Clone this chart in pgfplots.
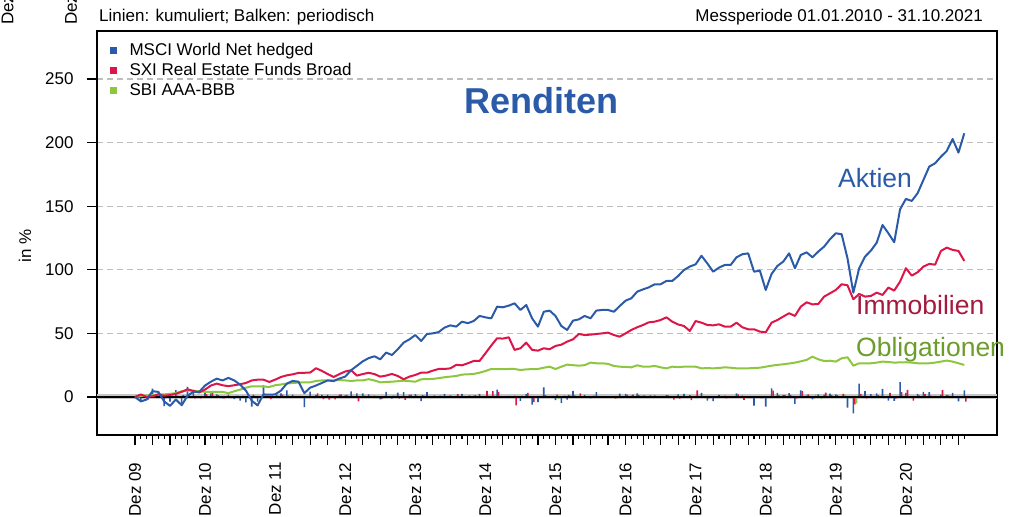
\documentclass[border=0pt]{standalone}
\usepackage{pgfplots}
\usepackage{pgfplotstable}
\pgfplotsset{compat=1.18}
\usepackage{fontspec}
\setmainfont{Liberation Sans}
\definecolor{cblue}{RGB}{43,91,168}
\definecolor{cred}{RGB}{220,22,72}
\definecolor{cgreen}{RGB}{141,198,63}
\definecolor{tred}{RGB}{165,25,62}
\definecolor{tgreen}{RGB}{108,156,44}
\definecolor{gridc}{RGB}{190,190,190}

\pgfplotstableread{
m A I O
0 0 0 0
1 -3.5 2 0.5
2 -2 0 1
3 4.5 0.5 1.5
4 4 2 2
5 -3.5 1 2
6 -7 1.5 2.5
7 -2 2.5 3
8 -6.5 4 4.5
9 1 6 5
10 4 4.7 5
11 4 3.5 4.5
12 9 5.8 4
13 12 9 4
14 14.4 10.5 4
15 13 9.2 4
16 15 8.5 3
17 13 9.2 4.5
18 9.7 10 5.8
19 5 11 7.3
20 -3 13 8.4
21 -6.6 13.6 8.4
22 2 13.6 8.2
23 1.8 11.8 7.9
24 2 13.6 9.2
25 5 15.7 9.8
26 10.5 17 10.5
27 12.6 17.8 11
28 12 18.9 11.3
29 3 19 11.5
30 7.3 19.2 11.5
31 9 22.6 12.6
32 11 20.5 13
33 13 18 13
34 12.5 15.7 13
35 14.5 18 13.3
36 16 20 13
37 21 21 12.6
38 24.5 16.8 13
39 28 18 13
40 30.5 19 14
41 32 18 13
42 29.6 16 11.5
43 34.9 16.8 11.8
44 33 18.1 12
45 37.5 16.5 12.4
46 42.7 13.9 12.8
47 45.3 16 12.4
48 48.7 17.3 12
49 44 19.1 13.9
50 49.5 19.1 14
51 50 20.7 14.2
52 51 22 14.8
53 54.5 22 15.5
54 56.3 22.5 16
55 55.3 25.2 16.5
56 59.2 24.9 17.6
57 58 26.5 17.8
58 59.7 28.3 18.1
59 63.7 28.3 19.1
60 62.6 34.3 20.4
61 61.8 40.4 22
62 71 46.1 21.8
63 70.5 45.9 21.9
64 71.8 46.9 22
65 73.6 37 22
66 68.4 38.3 21.2
67 72.3 42.7 21.7
68 61.8 37 21.9
69 55.3 36.4 22
70 67 38.3 23
71 67.9 37.5 23.8
72 63.7 40.1 22
73 55.8 41.1 23.8
74 52.7 43.5 25.4
75 60 45.3 25
76 61 49.5 24.6
77 63.7 48.7 25
78 61.8 49 27
79 67.9 49.5 26.5
80 68.4 50 26.5
81 68.4 50.6 26
82 67 48.7 24.4
83 71.5 47.4 23.8
84 75.7 50 23.6
85 77.6 52.7 23.3
86 82.8 54.8 24.9
87 84.6 56.6 23.8
88 86.2 58.7 23.8
89 88.6 59.2 24.4
90 88.6 60.5 23.3
91 91.2 62.6 22.5
92 91.2 59.2 23.8
93 95.1 57 23.5
94 99.8 55.8 23.8
95 102.5 51.9 23.8
96 104.3 59.7 23.8
97 111 58.4 22.5
98 105 56.6 22.7
99 98.5 56.3 22.5
100 101.7 57.1 22.8
101 103.8 55.3 23.3
102 103.8 55.3 23
103 109.8 58.4 22.5
104 112.2 54.8 22.5
105 112.9 53.2 22.5
106 98.5 53.2 22.8
107 99.3 51.4 23
108 84.1 50.8 23.8
109 96.7 58.4 24.6
110 103 60.5 25.2
111 106.4 63.2 25.7
112 112.9 65.8 26.3
113 101.2 63.7 27
114 111.6 71 28
115 113.7 74.4 29.1
116 109.8 72.8 31.7
117 114.3 73.1 29.6
118 118.2 78.9 28.3
119 124 81.5 28.5
120 128.7 84.1 27.8
121 127.9 88.6 30.4
122 109 87.8 31.2
123 82 76.8 24.6
124 101.2 81 26.5
125 110.3 78.9 26.5
126 115 79.4 26.5
127 121.3 82 27
128 135.2 80.2 27.8
129 128.7 86 27.5
130 121.6 83.6 27
131 147.5 90.7 27.2
132 155.7 101.2 27.3
133 154.1 95.4 27
134 160.1 98 26.5
135 170.6 102.5 26.5
136 181.1 104.6 26.5
137 183.7 104 27
138 188.9 114.8 27.8
139 193.4 117.4 28.6
140 202.8 115.6 27.8
141 192.1 114.8 26.5
142 207.3 106.9 25.2
}\lines

\pgfplotstableread{
m A I O
1 -3.5 2.0 0.5
2 1.6 -2.0 0.5
3 6.6 0.5 0.5
4 -0.5 1.5 0.5
5 -7.2 -1.0 0
6 -3.6 0.5 0.5
7 5.4 1.0 0.5
8 -4.6 1.5 1.5
9 8.0 1.9 0.5
10 3.0 -1.2 0
11 -0.2 -1.1 -0.5
12 4.8 2.2 -0.5
13 2.8 3.0 0
14 2.1 1.4 0
15 -1.2 -1.2 0
16 1.8 -0.6 -1.0
17 -1.7 0.6 1.5
18 -2.9 0.7 1.2
19 -4.3 0.9 1.4
20 -7.6 1.8 1.0
21 -3.7 0.5 0
22 9.2 0.1 -0.2
23 -0.2 -1.6 -0.3
24 0.2 1.6 1.2
25 2.9 1.8 0.5
26 5.2 1.1 0.6
27 1.9 0.7 0.5
28 -0.5 0.9 0.3
29 -8.0 0.1 0.2
30 4.2 0.2 0
31 1.6 2.9 1.0
32 1.8 -1.7 0.4
33 1.8 -2.1 0
34 -0.4 -1.9 0
35 1.8 2.0 0.3
36 1.3 1.7 -0.3
37 4.3 0.8 -0.4
38 2.9 -3.5 0.4
39 2.8 1.0 0
40 2.0 0.8 0.9
41 1.1 -0.8 -0.9
42 -1.8 -1.7 -1.3
43 4.1 0.7 0.3
44 -1.4 1.1 0.2
45 3.4 -1.4 0.4
46 3.8 -2.2 0.4
47 1.8 1.8 -0.4
48 2.3 1.1 -0.4
49 -3.2 1.5 1.7
50 3.8 0 0.1
51 0.3 1.3 0.2
52 0.7 1.1 0.5
53 2.3 0 0.6
54 1.2 0.4 0.4
55 -0.6 2.2 0.4
56 2.5 -0.2 0.9
57 -0.8 1.3 0.2
58 1.1 1.4 0.3
59 2.5 0 0.8
60 -0.7 4.7 1.1
61 -0.5 4.5 1.3
62 5.7 4.1 -0.2
63 -0.3 -0.1 0.1
64 0.8 0.7 0.1
65 1.0 -6.7 0
66 -3.0 0.9 -0.7
67 2.3 3.2 0.4
68 -6.1 -4.0 0.2
69 -4.0 -0.4 0.1
70 7.5 1.4 0.8
71 0.5 -0.6 0.7
72 -2.5 1.9 -1.5
73 -4.8 0.7 1.5
74 -2.0 1.7 1.3
75 4.8 1.3 -0.3
76 0.6 2.9 -0.3
77 1.7 -0.5 0.3
78 -1.2 0.2 1.6
79 3.8 0.3 -0.4
80 0.3 0.3 0
81 0.1 0.4 -0.4
82 -0.8 -1.3 -1.3
83 2.7 -0.9 -0.5
84 2.4 1.8 -0.2
85 1.1 1.8 -0.2
86 2.9 1.4 1.3
87 1.0 1.2 -0.9
88 0.9 1.3 0
89 1.3 0.3 0.5
90 0.1 0.8 -0.9
91 1.4 1.3 -0.7
92 0.1 -2.1 1.1
93 2.0 -1.4 -0.2
94 2.4 -0.8 0.2
95 1.4 -2.5 0
96 0.9 5.1 0
97 3.3 -0.8 -1.1
98 -2.8 -1.1 0.2
99 -3.2 -0.2 -0.2
100 1.6 0.5 0.2
101 1.0 -1.1 0.4
102 0.2 0 -0.2
103 2.9 2.0 -0.4
104 1.1 -2.3 0
105 0.3 -1.0 0
106 -6.8 0 0.2
107 0.4 -1.2 0.2
108 -7.6 -0.4 0.7
109 6.8 5.0 0.6
110 3.2 1.3 0.5
111 1.7 1.7 0.4
112 3.1 1.6 0.5
113 -5.5 -1.3 0.6
114 5.2 4.5 0.8
115 1.0 2.0 0.9
116 -1.8 -0.9 2.0
117 2.1 0.2 -1.6
118 1.8 3.4 -1.0
119 2.7 1.5 0.2
120 2.1 1.4 -0.5
121 -0.3 2.4 2.0
122 -8.3 -0.4 0.6
123 -12.9 -5.9 -5.0
124 10.5 2.4 1.5
125 4.5 -1.2 0
126 2.2 0.3 0
127 2.9 1.4 0.4
128 6.3 -1.0 0.6
129 -2.8 3.2 -0.2
130 -3.1 -1.3 -0.4
131 11.7 3.9 0.2
132 3.3 5.5 0.1
133 -0.6 -2.9 -0.2
134 2.4 1.3 -0.4
135 4.0 2.3 0
136 3.9 1.0 0
137 0.9 -0.3 0.4
138 1.8 5.3 0.6
139 1.6 1.2 0.6
140 3.2 -0.8 -0.6
141 -3.5 -0.4 -1.0
142 5.2 -3.7 -1.0
}\bars

\begin{document}
\begin{tikzpicture}[x=1pt,y=1pt]
\path[use as bounding box] (0,0) rectangle (1010,517);
\begin{axis}[
  at={(97pt,82pt)}, anchor=south west,
  scale only axis, width=900pt, height=404pt,
  xmin=-6.5, xmax=147.6, ymin=-29.9, ymax=287.7,
  axis line style={black, line width=1.8pt},
  tick align=outside,
  tick style={black, line width=1.1pt},
  major tick length=10pt, minor tick length=3.5pt,
  xtick pos=bottom, ytick pos=left,
  ytick={0,50,100,150,200,250},
  ymajorgrids, major grid style={gridc, dashed, dash pattern=on 6pt off 4pt, line width=1.1pt},
  xtick={0,3,...,141}, xticklabels={},
  minor xtick={1,2,...,142},
  extra x ticks={0,12,...,132},
  extra x tick labels={Dez 09,Dez 10,Dez 11,Dez 12,Dez 13,Dez 14,Dez 15,Dez 16,Dez 17,Dez 18,Dez 19,Dez 20},
  extra x tick style={grid=none, xticklabel style={rotate=90, anchor=east, xshift=-14pt}},
  /pgf/number format/assume math mode=true,
  tick label style={font=\fontsize{17}{20}\selectfont},
  yticklabel style={xshift=-10pt},
  clip=true,
]
\draw[gray!45, line width=5pt] (axis cs:-6.5,0) -- (axis cs:147.6,0);
\addplot[ybar, bar width=1.6pt, bar shift=0pt, fill=cblue, draw=none] table[x=m,y=A] {\bars};
\addplot[ybar, bar width=1.6pt, bar shift=1.6pt, fill=cred, draw=none] table[x=m,y=I] {\bars};
\addplot[ybar, bar width=1.6pt, bar shift=3.2pt, fill=cgreen, draw=none] table[x=m,y=O] {\bars};
\draw[black, line width=1.8pt] (axis cs:-6.5,0) -- (axis cs:147.6,0);
\addplot[cgreen, line width=2pt, line join=round, no marks] table[x=m,y=O] {\lines};
\addplot[cred, line width=2pt, line join=round, no marks] table[x=m,y=I] {\lines};
\addplot[cblue, line width=2pt, line join=round, no marks] table[x=m,y=A] {\lines};
\end{axis}
% texts
\node[rotate=90, inner sep=0, font=\fontsize{17}{20}\selectfont] at (25,271) {in \%};
\node[anchor=base west, inner sep=0, font=\fontsize{17}{20}\selectfont] at (99,495) {Linien: kumuliert; Balken: periodisch};
\node[anchor=base east, inner sep=0, font=\fontsize{17}{20}\selectfont] at (983,495) {Messperiode 01.01.2010 - 31.10.2021};
\fill[cblue] (110.2,462.5) rectangle (117.2,469.5);
\fill[cred] (110.2,442.5) rectangle (117.2,449.5);
\fill[cgreen] (110.2,422.5) rectangle (117.2,429.5);
\node[anchor=base west, inner sep=0, font=\fontsize{17}{20}\selectfont] at (129.3,461) {MSCI World Net hedged};
\node[anchor=base west, inner sep=0, font=\fontsize{17}{20}\selectfont] at (129.3,441) {SXI Real Estate Funds Broad};
\node[anchor=base west, inner sep=0, font=\fontsize{17}{20}\selectfont] at (129.3,421) {SBI AAA-BBB};
\node[anchor=base, inner sep=0, font=\fontsize{36}{40}\selectfont\bfseries, text=cblue] at (541.7,403.7) {Renditen};
\node[anchor=base west, inner sep=0, font=\fontsize{26.5}{30}\selectfont, text=cblue] at (838,329.7) {Aktien};
\node[anchor=base west, inner sep=0, font=\fontsize{26.5}{30}\selectfont, text=tred] at (856,202) {Immobilien};
\node[anchor=base west, inner sep=0, font=\fontsize{26.5}{30}\selectfont, text=tgreen] at (856,160.3) {Obligationen};
\node[rotate=90, anchor=west, inner sep=0, font=\fontsize{17}{20}\selectfont] at (7.5,492) {Dez};
\node[rotate=90, anchor=west, inner sep=0, font=\fontsize{17}{20}\selectfont] at (71,492) {Dez};
\end{tikzpicture}
\end{document}
